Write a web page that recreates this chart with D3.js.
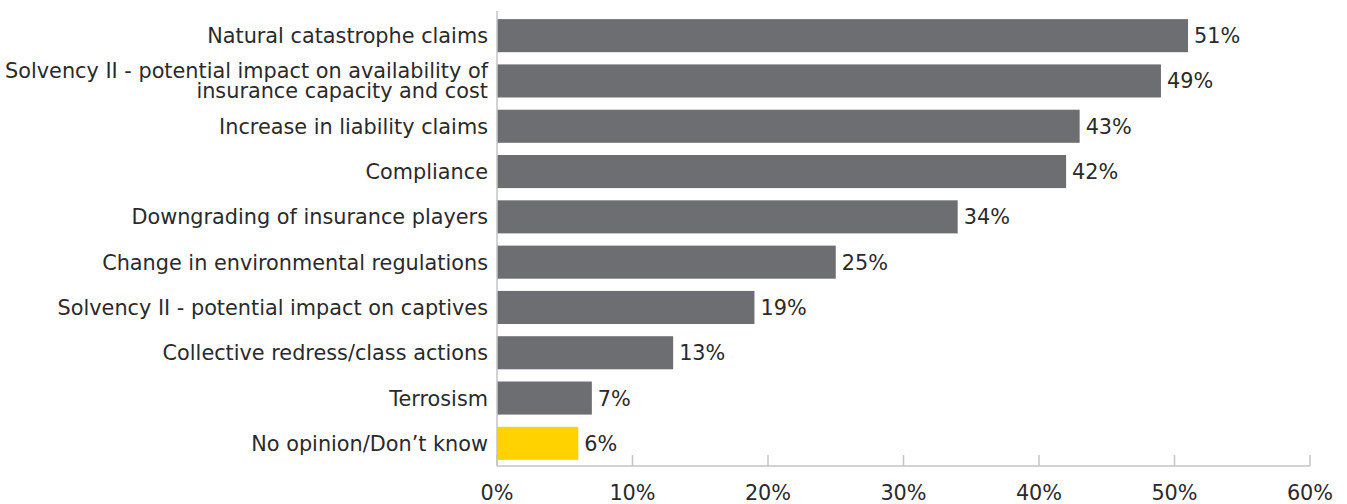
<!DOCTYPE html>
<html><head><meta charset="utf-8">
<script src="https://cdn.jsdelivr.net/npm/d3@7"></script>
<style>body{margin:0;background:#fff}svg text{font-family:"DejaVu Sans",sans-serif;fill:#2a2a2a}</style>
</head><body><svg id="c" width="1347" height="504"></svg>
<script>
const categories = [
  ["Natural catastrophe claims"],
  ["Solvency II - potential impact on availability of","insurance capacity and cost"],
  ["Increase in liability claims"],
  ["Compliance"],
  ["Downgrading of insurance players"],
  ["Change in environmental regulations"],
  ["Solvency II - potential impact on captives"],
  ["Collective redress/class actions"],
  ["Terrosism"],
  ["No opinion/Don\u2019t know"]
];
const values = [51,49,43,42,34,25,19,13,7,6];
const highlight = [false,false,false,false,false,false,false,false,false,true];
const ticks = [0,10,20,30,40,50,60];

const svg = d3.select("#c");
const x = d3.scaleLinear().domain([0,60]).range([497,1310]);
const y = d3.scaleBand().domain(d3.range(values.length)).range([13,466]).paddingInner(0.27).paddingOuter(0.135);
const fs = 20.8;

svg.selectAll("rect.bar").data(values).join("rect")
  .attr("x", x(0)).attr("y",(d,i)=>y(i)).attr("width",d=>x(d)-x(0)).attr("height",y.bandwidth())
  .attr("fill",(d,i)=>highlight[i]?"#ffd200":"#6d6e71");

svg.selectAll("text.val").data(values).join("text")
  .attr("x",d=>x(d)+6).attr("y",(d,i)=>y(i)+y.bandwidth()/2).attr("dy","0.36em")
  .attr("font-size",fs).text(d=>d+"%");

const cat = svg.selectAll("text.cat").data(categories).join("text")
  .attr("text-anchor","end").attr("font-size",fs)
  .attr("x",488).attr("y",(d,i)=>y(i)+y.bandwidth()/2);
cat.each(function(d){
  const t=d3.select(this);
  const n=d.length, lh=20;
  d.forEach((line,k)=>{
    t.append("tspan").attr("x",488).attr("dy", k===0? ((0.36*fs)-(n-1)*lh/2)+"px" : lh+"px").text(line);
  });
});

const axisColor="#c4c4c4";
svg.append("line").attr("x1",x(0)).attr("x2",x(0)).attr("y1",11).attr("y2",466).attr("stroke",axisColor).attr("stroke-width",1.5);
svg.append("line").attr("x1",x(0)).attr("x2",x(60)).attr("y1",466).attr("y2",466).attr("stroke",axisColor).attr("stroke-width",1.5);
svg.selectAll("line.tick").data(ticks).join("line")
  .attr("x1",d=>x(d)).attr("x2",d=>x(d)).attr("y1",455).attr("y2",466).attr("stroke",axisColor).attr("stroke-width",1.5);
svg.selectAll("text.tick").data(ticks).join("text")
  .attr("x",d=>x(d)).attr("y",500).attr("text-anchor","middle").attr("font-size",fs).text(d=>d+"%");
</script></body></html>
